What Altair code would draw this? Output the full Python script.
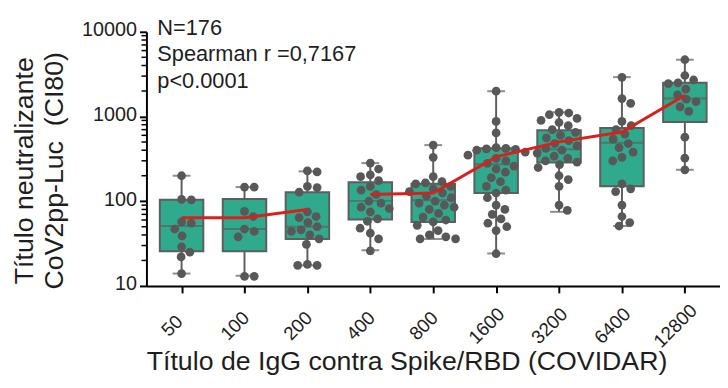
import math
import altair as alt
import pandas as pd

# ---------------- data ----------------
categories = ["50", "100", "200", "400", "800", "1600", "3200", "6400", "12800"]

whisker_hi = [200, 147, 225, 282, 460, 1990, 1122, 2918, 4680]
q3 = [104, 106, 128, 168, 161, 421, 688, 731, 2506]
median = [51, 47, 50, 101, 103, 274, 410, 489, 1633]
q1 = [25.7, 25.7, 35.9, 61, 57, 125, 286, 150, 859]
whisker_lo = [14, 13.2, 17.5, 26.4, 35.8, 24.2, 75, 51, 235]

trend = [64, 64, 80, 120, 125, 334, 502, 656, 1787]
trend_segment = ["a", "a", "a", "b", "b", "b", "b", "b", "b"]

points_50 = [200, 105, 104, 57, 55, 47, 39, 29, 25, 22, 14]
points_100 = [147, 147, 76, 66, 47, 44, 38, 13, 13]
points_200 = [228, 222, 150, 145, 128, 75, 66, 64, 56, 50, 46, 44, 40, 36, 31, 18, 17.5, 17.5]
points_400 = [282, 240, 205, 195, 175, 150, 135, 120, 100, 95, 85, 82, 75, 62, 58, 48, 42, 36, 26]
points_800 = [460, 330, 195, 170, 165, 160, 150, 140, 130, 125, 115, 110, 100, 95, 90, 85, 80,
              72, 65, 60, 57, 52, 45, 40, 38, 36, 36]
points_1600 = [1990, 875, 640, 430, 420, 415, 410, 400, 380, 350, 320, 300, 280, 260, 240, 220,
               190, 170, 150, 135, 125, 110, 90, 80, 70, 62, 55, 50, 45, 24]
points_3200 = [1120, 1100, 1050, 950, 900, 850, 780, 700, 650, 600, 560, 520, 480, 450, 420, 400,
               370, 340, 320, 300, 290, 270, 250, 200, 180, 150, 90, 78]
points_6400 = [2900, 1630, 1430, 875, 780, 700, 620, 540, 480, 430, 380, 330, 300, 160, 140, 130,
               90, 66, 56, 51]
points_12800 = [4680, 3050, 2700, 2500, 2450, 2100, 1800, 1600, 1500, 1300, 1150, 570, 322, 235]

all_points = [points_50, points_100, points_200, points_400, points_800, points_1600,
              points_3200, points_6400, points_12800]

annotation = ["N=176", "Spearman r =0,7167", "p<0.0001"]
y_ticks = [10, 100, 1000, 10000]
y_minor = [m * d for d in (10, 100, 1000) for m in range(2, 10)]

# ---------------- layout / style ----------------
W, H = 580, 257
X_DOMAIN = [-0.48, 8.48]
Y_DOMAIN = [10, 10000]
FONT = "Liberation Sans"
TEAL = "#2faa8d"
GRAY = "#5e5e5e"
PT = "#585858"
RED = "#d8201c"
TXT = "#1e1e1e"

step_px = W / (X_DOMAIN[1] - X_DOMAIN[0])


def ypix(v):
    return H - (math.log10(v) - 1) / 3 * H


def swarm(values, d=10.0):
    """simple beeswarm: smallest horizontal shift that avoids overlap"""
    ys = [ypix(v) for v in values]
    order = sorted(range(len(values)), key=lambda i: ys[i])
    placed, offs = [], [0.0] * len(values)
    for i in order:
        y = ys[i]
        found = None
        k = 0
        while found is None:
            for sgn in ((1,) if k == 0 else (1, -1)):
                x = sgn * k * 0.5
                if all((x - px) ** 2 + (y - py) ** 2 >= d * d for px, py in placed):
                    found = x
                    break
            k += 1
        placed.append((found, y))
        offs[i] = found
    return offs


rows = []
for gi, vals in enumerate(all_points):
    offs = swarm(vals)
    for v, o in zip(vals, offs):
        rows.append({"pos": gi + o / step_px, "v": v})
pts_df = pd.DataFrame(rows)

stats_df = pd.DataFrame({
    "idx": list(range(len(categories))),
    "hi": whisker_hi, "q3": q3, "median": median, "q1": q1, "lo": whisker_lo,
    "trend": trend, "seg": trend_segment,
})
minor_df = pd.DataFrame({"m": y_minor})
one_df = pd.DataFrame({"a": [0]})

xscale = alt.Scale(domain=X_DOMAIN, nice=False, zero=False)
yscale = alt.Scale(type="log", domain=Y_DOMAIN, nice=False)

label_expr = "[" + ",".join("'%s'" % c for c in categories) + "][datum.value]"

x_axis = alt.Axis(
    values=list(range(len(categories))), labelExpr=label_expr,
    labelAngle=-45, labelAlign="center", labelBaseline="middle",
    labelOffset=-10, labelPadding=33, labelFontSize=19, labelFont=FONT,
    labelColor=TXT, labelFlush=False, labelOverlap=False,
    tickSize=7, tickWidth=2, tickColor="black",
    domainWidth=2, domainColor="black", grid=False,
    title="Título de IgG contra Spike/RBD (COVIDAR)", titleFont=FONT,
    titleFontSize=27, titleFontWeight="normal", titleColor=TXT,
    titleX=263, titleY=84, titleBaseline="alphabetic", titleAlign="center",
)
y_axis = alt.Axis(
    values=y_ticks, format="d", labelFontSize=20, labelFont=FONT, labelColor=TXT,
    labelPadding=3, labelOffset=-2, labelFlush=False,
    tickSize=7, tickWidth=2, tickColor="black",
    domainWidth=2, domainColor="black", grid=False,
    title=["Título neutralizante", "CoV2pp-Luc\u00a0 (CI80)"], titleFont=FONT,
    titleFontSize=27, titleFontWeight="normal", titleColor=TXT, titleLineHeight=30,
    titleX=-109, titleY=140, titleAlign="center", titleBaseline="bottom", titleAngle=-90,
)


def X(field):
    return alt.X(field, scale=xscale, axis=x_axis)


def Y(field):
    return alt.Y(field, scale=yscale, axis=y_axis)


base = alt.Chart(stats_df)

whiskers = base.mark_rule(color=GRAY, strokeWidth=2).encode(
    x=X("idx:Q"), y=Y("lo:Q"), y2="hi:Q",
)
cap_hi = base.mark_tick(orient="horizontal", size=18, thickness=2, color=GRAY).encode(
    x=X("idx:Q"), y=Y("hi:Q"),
)
cap_lo = base.mark_tick(orient="horizontal", size=18, thickness=2, color=GRAY).encode(
    x=X("idx:Q"), y=Y("lo:Q"),
)
box = base.mark_bar(size=44, fill=TEAL, stroke=GRAY, strokeWidth=2).encode(
    x=X("idx:Q"), y=Y("q1:Q"), y2="q3:Q",
)
med = base.mark_tick(orient="horizontal", size=44, thickness=2, color=GRAY).encode(
    x=X("idx:Q"), y=Y("median:Q"),
)
dots = alt.Chart(pts_df).mark_circle(size=78, color=PT, opacity=1).encode(
    x=X("pos:Q"), y=Y("v:Q"),
)
line = base.mark_line(color=RED, strokeWidth=3).encode(
    x=X("idx:Q"), y=Y("trend:Q"), detail="seg:N",
)
minor = alt.Chart(minor_df).mark_rule(color="black", strokeWidth=1.5).encode(
    y=Y("m:Q"), x=alt.value(-5), x2=alt.value(0),
)
note = alt.Chart(one_df).mark_text(
    align="left", baseline="alphabetic", font=FONT, fontSize=22, lineHeight=27, color=TXT
).encode(x=alt.value(11), y=alt.value(3), text=alt.value(annotation))

chart = alt.layer(whiskers, cap_hi, cap_lo, box, med, dots, line, minor, note).properties(
    width=W, height=H,
    autosize=alt.AutoSizeParams(type="none"),
    padding={"left": 140, "top": 22, "right": 0, "bottom": 90},
).configure_view(strokeWidth=0)

chart.save("out.html", embed_options={"renderer": "svg", "actions": False})
